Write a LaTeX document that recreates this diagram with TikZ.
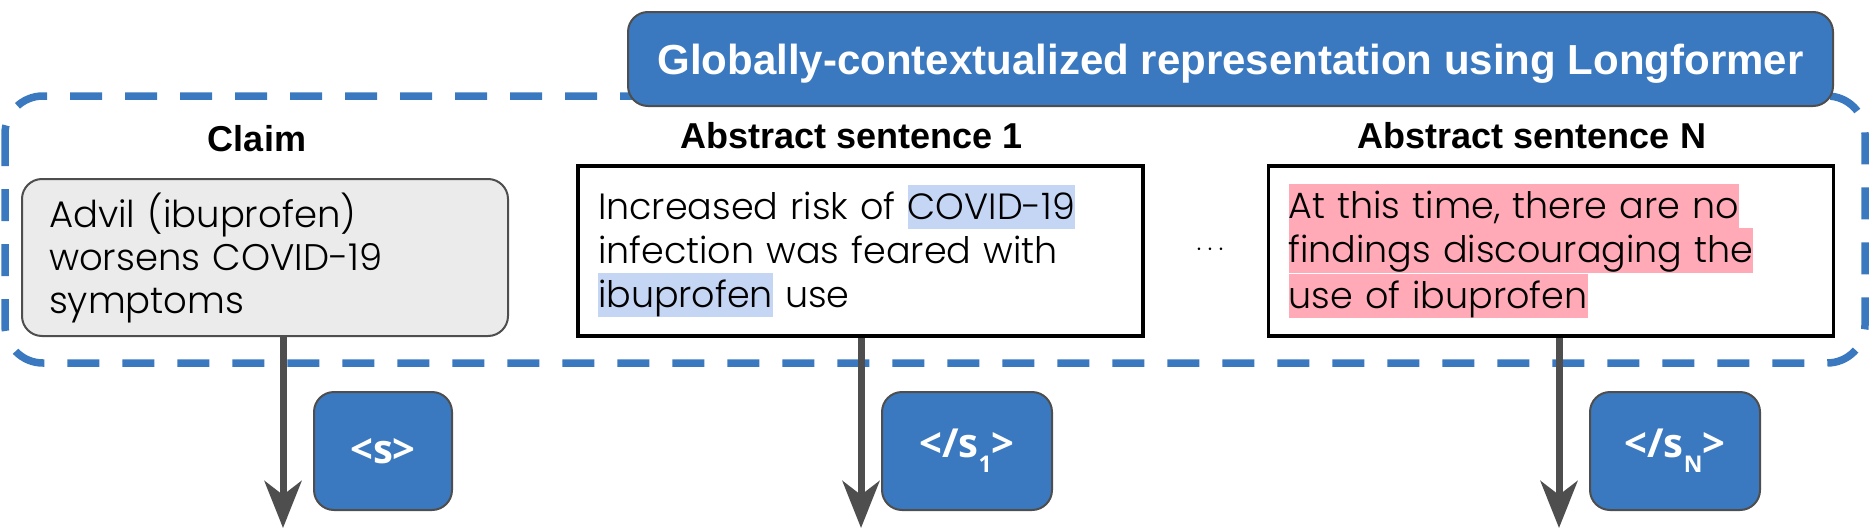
\documentclass[tikz,border=0pt]{standalone}
\usepackage{fontspec}
\setmainfont{Poppins}[UprightFont = * Light, BoldFont = * Bold]
\newfontfamily\headfont{Liberation Sans}
\newfontfamily\tokfont{Open Sans}
\usetikzlibrary{arrows.meta}

\definecolor{lfblue}{RGB}{58,121,191}
\definecolor{edgegray}{RGB}{78,78,78}
\definecolor{claimgray}{RGB}{235,235,235}
\definecolor{hlblue}{RGB}{197,214,245}
\definecolor{hlpink}{RGB}{255,170,182}

\newcommand{\lstrut}{\rule[-9pt]{0pt}{44pt}}
\newcommand{\hlword}[2]{{\setlength{\fboxsep}{0pt}\colorbox{#1}{\lstrut#2}}}
\newcommand{\subtok}[1]{\raisebox{-15pt}{\fontsize{23}{23}\selectfont #1}}

\begin{document}
\begin{tikzpicture}[x = 1pt, y = -1pt,
        headlbl/.style = {anchor = base, font = \headfont\bfseries\fontsize{36}{40}\selectfont},
        sentbox/.style = {draw, line width = 3.5pt, minimum height = 170pt, inner xsep = 20pt,
            text width = 525pt, align = left, font = \fontsize{36.5}{44}\selectfont},
        tokbox/.style = {draw = edgegray, line width = 2pt, fill = lfblue, rounded corners = 20pt,
            minimum width = 170pt, minimum height = 118pt, text = white,
            font = \tokfont\bfseries\fontsize{40}{42}\selectfont},
        flow/.style = {edgegray, line width = 7pt, -{Stealth[length = 47pt, width = 37pt, inset = 14pt]}}]
    % \draw[style = help lines, step = 100] (0,0) grid (1870,530);
    \useasboundingbox (0,0) rectangle (1870,530);

    \draw[lfblue, line width = 7.5pt, dash pattern = on 32pt off 23pt, rounded corners = 38pt]
        (5,96) rectangle (1865,363);

    \node[draw = edgegray, line width = 2pt, fill = lfblue, rounded corners = 20pt,
        minimum width = 1205pt, minimum height = 94pt, text height = 30pt, text depth = 0pt,
        text = white, font = \headfont\bfseries\fontsize{42}{48}\selectfont]
        (title) at (1230.5,59) {Globally-contextualized representation using Longformer};

    \node[headlbl] (claimhd) at (257,151) {Claim};
    \node[headlbl] (sent1hd) at (852,148) {Abstract sentence 1};
    \node[headlbl] (sentNhd) at (1532,148) {Abstract sentence N};

    \node[draw = edgegray, line width = 2pt, fill = claimgray, rounded corners = 20pt,
        minimum height = 157pt, inner xsep = 27pt, text width = 432pt, align = left,
        font = \fontsize{37}{43}\selectfont]
        (claim) at (265,257.5) {\lstrut Advil (ibuprofen)\\ worsens COVID-19\\ \lstrut symptoms};
    \node[sentbox] (sent1) at (860.5,251)
        {Increased risk of \hlword{hlblue}{COVID-19}\\ infection was feared with\\ \hlword{hlblue}{ibuprofen} use};
    \node[font = \fontsize{36}{36}\selectfont] (dots) at (1210,250) {$\cdots$};
    \node[sentbox] (sentN) at (1551,251)
        {\hlword{hlpink}{At this time, there are no}\\ \hlword{hlpink}{findings discouraging the}\\ \hlword{hlpink}{use of ibuprofen}};

    \node[tokbox, minimum width = 138pt] (tok0) at (383,451) {<s>};
    \node[tokbox] (tok1) at (967,451) {</s\subtok{1}>};
    \node[tokbox] (tokN) at (1675,451) {</s\subtok{N}>};

    \coordinate (end0) at (283,528);
    \coordinate (end1) at (861,528);
    \coordinate (endN) at (1559,528);
    \draw[flow] (claim.south -| end0) -- (end0);
    \draw[flow] (sent1.south -| end1) -- (end1);
    \draw[flow] (sentN.south -| endN) -- (endN);
\end{tikzpicture}
\end{document}
